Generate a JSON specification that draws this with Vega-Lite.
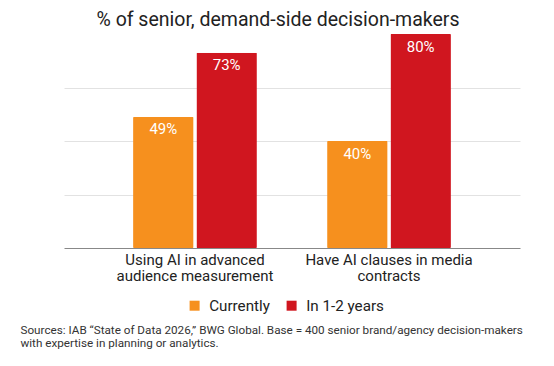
{
  "$schema": "https://vega.github.io/schema/vega-lite/v6.json",
  "width": 456,
  "height": 214,
  "autosize": {"type": "none"},
  "padding": {"left": 64, "top": 34, "right": 34, "bottom": 118},
  "background": "white",
  "config": {"font": "Roboto", "view": {"stroke": null}},
  "title": {"text": "% of senior, demand-side decision-makers", "fontSize": 19.5, "font": "Roboto", "fontWeight": "normal", "color": "#222222", "anchor": "middle", "dx": -14, "offset": 4},
  "data": {"values": [
    {"measure": "Using AI in advanced|audience measurement", "period": "Currently", "value": 0.49},
    {"measure": "Using AI in advanced|audience measurement", "period": "In 1-2 years", "value": 0.73},
    {"measure": "Have AI clauses in media|contracts", "period": "Currently", "value": 0.40},
    {"measure": "Have AI clauses in media|contracts", "period": "In 1-2 years", "value": 0.80}
  ]},
  "encoding": {
    "x": {"field": "measure", "type": "nominal", "sort": null,
      "scale": {"paddingInner": 0.362, "paddingOuter": 0.356},
      "axis": {
        "title": ["Sources: IAB “State of Data 2026,” BWG Global. Base = 400 senior brand/agency decision-makers", "with expertise in planning or analytics."],
        "titleX": -44, "titleY": 76, "titleAnchor": "start", "titleAlign": "left", "titleBaseline": "top",
        "titleFontSize": 11.7, "titleFontWeight": "normal", "titleColor": "#333333", "titleLineHeight": 13.5, "titleLimit": 0,
        "labelExpr": "split(datum.label, '|')", "labelAngle": 0, "labelFontSize": 15, "labelColor": "#222222",
        "labelLineHeight": 16.5, "labelPadding": 4, "ticks": false, "domainColor": "#888888", "labelLimit": 0
      }},
    "xOffset": {"field": "period", "type": "nominal", "sort": ["Currently", "In 1-2 years"], "scale": {"paddingInner": 0.045}},
    "y": {"field": "value", "type": "quantitative", "scale": {"domain": [0, 0.8], "nice": false},
      "axis": {"title": null, "labels": false, "ticks": false, "domain": false, "grid": true, "values": [0.2, 0.4, 0.6], "gridColor": "#e2e2e2"}}
  },
  "layer": [
    {"mark": {"type": "bar", "cornerRadius": 1},
     "encoding": {"color": {"field": "period", "type": "nominal",
       "scale": {"domain": ["Currently", "In 1-2 years"], "range": ["#F6901E", "#D0161F"]},
       "legend": {"orient": "none", "legendX": 123, "legendY": 264, "direction": "horizontal", "title": null,
         "symbolType": "square", "symbolSize": 100, "labelFontSize": 15.2, "labelColor": "#222222",
         "columnPadding": 14, "labelOffset": 7, "symbolStrokeWidth": 0, "symbolOpacity": 1}}}},
    {"mark": {"type": "text", "baseline": "middle", "dy": 12.5, "color": "white", "fontSize": 15},
     "encoding": {"text": {"field": "value", "type": "quantitative", "format": ".0%"}}}
  ]
}
